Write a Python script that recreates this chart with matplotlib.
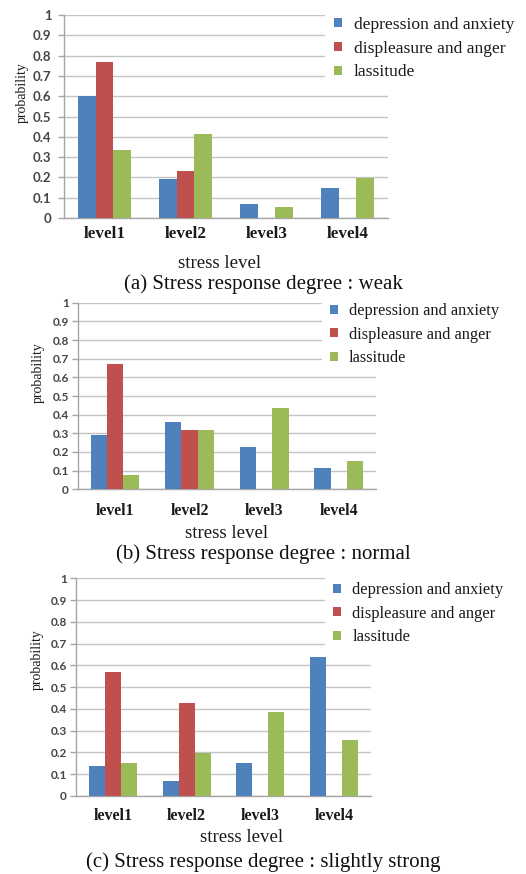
import matplotlib
matplotlib.use('Agg')
import matplotlib.pyplot as plt
import numpy as np
from matplotlib.patches import Patch

# ---------------- data ----------------
categories = ['level1', 'level2', 'level3', 'level4']
series_names = ['depression and anxiety', 'displeasure and anger', 'lassitude']

weak_depression = [0.60, 0.19, 0.07, 0.146]
weak_displeasure = [0.77, 0.23, 0.0, 0.0]
weak_lassitude = [0.335, 0.415, 0.052, 0.197]

normal_depression = [0.29, 0.36, 0.227, 0.113]
normal_displeasure = [0.673, 0.318, 0.0, 0.0]
normal_lassitude = [0.077, 0.318, 0.438, 0.149]

strong_depression = [0.138, 0.067, 0.150, 0.640]
strong_displeasure = [0.570, 0.426, 0.0, 0.0]
strong_lassitude = [0.153, 0.199, 0.384, 0.256]

y_ticks = [0, 0.1, 0.2, 0.3, 0.4, 0.5, 0.6, 0.7, 0.8, 0.9, 1.0]
y_tick_labels = ['0', '0.1', '0.2', '0.3', '0.4', '0.5', '0.6', '0.7', '0.8', '0.9', '1']
x_label = 'stress level'
y_label = 'probability'
captions = ['(a) Stress response degree : weak',
            '(b) Stress response degree : normal',
            '(c) Stress response degree : slightly strong']

colors = ['#4F81BD', '#C0504D', '#9BBB59']

W, H = 526, 874
fig = plt.figure(figsize=(W / 100, H / 100), dpi=100)
fig.patch.set_facecolor('white')

SERIF = 'Liberation Serif'
SANS = 'Lato'


def rect(l, r, top, bottom):
    return [l / W, 1 - bottom / H, (r - l) / W, (bottom - top) / H]


panels = [
    dict(data=[weak_depression, weak_displeasure, weak_lassitude],
         box=(64, 388, 15, 218), tick_fs=9.5, ypad=5, xt_fs=12.3, xpad=6,
         leg=(325, 8), leg_fs=12.6,
         ylab=(22, 93), xlab=(220, 263), cap=(263, 284)),
    dict(data=[normal_depression, normal_displeasure, normal_lassitude],
         box=(77.7, 376, 302.7, 489.3), tick_fs=8.5, ypad=2.5, xt_fs=11.3, xpad=10,
         leg=(322, 295), leg_fs=11.8,
         ylab=(38, 373), xlab=(227, 534), cap=(263, 554)),
    dict(data=[strong_depression, strong_displeasure, strong_lassitude],
         box=(76, 371, 578.3, 796), tick_fs=8.5, ypad=2.5, xt_fs=11.5, xpad=9,
         leg=(325, 574), leg_fs=11.9,
         ylab=(37, 660), xlab=(242, 838), cap=(263, 862)),
]

x = np.arange(len(categories))
bw = 0.218

for i, p in enumerate(panels):
    ax = fig.add_axes(rect(*p['box']))
    for k, vals in enumerate(p['data']):
        ax.bar(x + (k - 1) * bw, vals, width=bw, color=colors[k], edgecolor='none',
               zorder=3)
    ax.set_xlim(-0.5, len(categories) - 0.5)
    ax.set_ylim(0, 1)
    ax.set_yticks(y_ticks)
    ax.set_yticklabels(y_tick_labels, fontfamily=SANS, fontweight='bold',
                       fontsize=p['tick_fs'], color='#454545')
    ax.set_xticks(x)
    ax.set_xticklabels(categories, fontfamily=SERIF, fontweight='bold',
                       fontsize=p['xt_fs'], color='#1a1a1a')
    ax.tick_params(axis='x', length=0, pad=p['xpad'])
    ax.tick_params(axis='y', length=4, width=1, color='#a6a6a6', pad=p['ypad'])
    ax.grid(axis='y', color='#c4c4c4', linewidth=1, zorder=0)
    ax.set_axisbelow(True)
    for s in ['top', 'right']:
        ax.spines[s].set_visible(False)
    for s in ['left', 'bottom']:
        ax.spines[s].set_color('#a6a6a6')
        ax.spines[s].set_linewidth(1)

    handles = [Patch(facecolor=c, edgecolor='none') for c in colors]
    lx, ly = p['leg']
    fig.legend(handles, series_names, loc='upper left',
               bbox_to_anchor=(lx / W, 1 - ly / H), bbox_transform=fig.transFigure,
               borderaxespad=0, frameon=True, facecolor='white', edgecolor='none',
               framealpha=1, fancybox=False, handlelength=0.45, handleheight=0.45,
               handletextpad=0.7, labelspacing=0.45, borderpad=0.5,
               prop=dict(family=SERIF, size=p['leg_fs']), labelcolor='#1a1a1a')

    fig.text(p['ylab'][0] / W, 1 - p['ylab'][1] / H, y_label, rotation=90,
             ha='center', va='center', fontfamily=SERIF, fontsize=10, color='#1a1a1a')
    fig.text(p['xlab'][0] / W, 1 - p['xlab'][1] / H, x_label,
             ha='center', va='center', fontfamily=SERIF, fontsize=13.6, color='#1a1a1a')
    fig.text(p['cap'][0] / W, 1 - p['cap'][1] / H, captions[i],
             ha='center', va='center', fontfamily=SERIF, fontsize=15, color='#111111')

fig.savefig('out.png', dpi=100, facecolor='white')
